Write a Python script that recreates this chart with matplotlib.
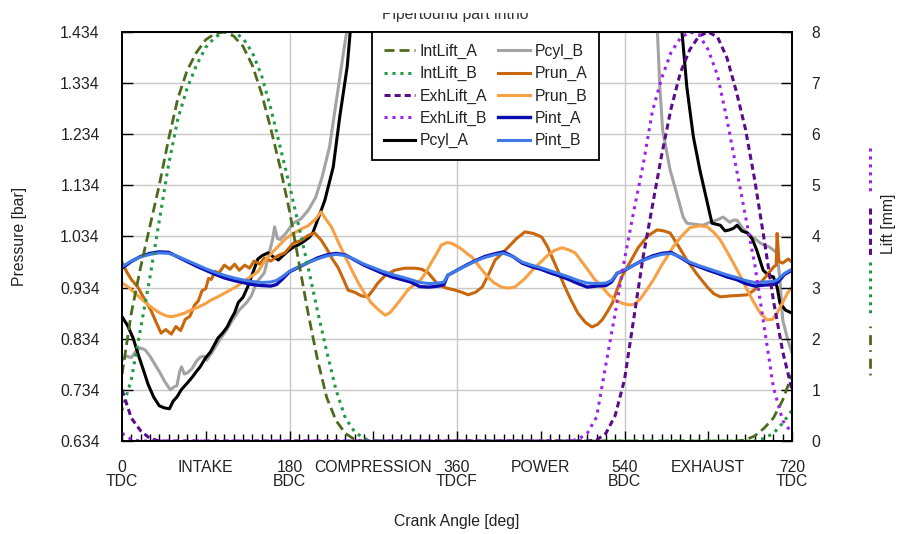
import numpy as np
import matplotlib
matplotlib.use('Agg')
import matplotlib.pyplot as plt
from matplotlib.lines import Line2D
from matplotlib.patches import Rectangle
from matplotlib.ticker import FixedLocator, MultipleLocator

plt.rcParams['font.family'] = ['Liberation Sans', 'DejaVu Sans']
plt.rcParams['font.size'] = 11.3
TXT = '#222222'

# ---- data (crank angle in deg) ----
x_ticks = [0, 90, 180, 270, 360, 450, 540, 630, 720]
x_labels = ['0\nTDC', 'INTAKE', '180\nBDC', 'COMPRESSION', '360\nTDCF',
            'POWER', '540\nBDC', 'EXHAUST', '720\nTDC']
p_ticks = [0.634, 0.734, 0.834, 0.934, 1.034, 1.134, 1.234, 1.334, 1.434]
lift_ticks = [0, 1, 2, 3, 4, 5, 6, 7, 8]

# valve lifts [mm]
int_a_deg = [0, 10, 20, 30, 40, 50, 60, 70, 80, 90, 100, 110, 120, 130, 140, 150, 160,
             170, 180, 190, 200, 210, 220, 230, 240, 250, 260, 660, 670, 680, 690, 700, 710, 720]
int_a = [1.3, 2.5, 3.4, 4.2, 5.0, 5.9, 6.7, 7.25, 7.6, 7.85, 7.97, 8.0, 7.92, 7.72, 7.35, 6.8, 6.1,
         5.35, 4.5, 3.5, 2.5, 1.6, 0.85, 0.4, 0.15, 0.03, 0.0, 0.0, 0.02, 0.1, 0.25, 0.45, 0.8, 1.3]

int_b_deg = [0, 10, 20, 30, 40, 50, 60, 70, 80, 90, 100, 110, 120, 130, 140, 150, 160, 170,
             180, 190, 200, 210, 220, 230, 240, 250, 260, 270, 680, 690, 700, 710, 720]
int_b = [0.6, 1.2, 2.2, 3.2, 4.3, 5.4, 6.3, 6.9, 7.35, 7.7, 7.9, 8.0, 8.0, 7.88, 7.6, 7.15, 6.5, 5.75,
         5.0, 4.2, 3.4, 2.55, 1.75, 1.0, 0.45, 0.18, 0.05, 0.0, 0.0, 0.05, 0.15, 0.35, 0.6]

exh_a_deg = [0, 10, 20, 30, 40, 500, 510, 520, 530, 540, 550, 560, 570, 580, 590, 600, 610,
             620, 630, 640, 650, 660, 670, 680, 690, 700, 710, 720]
exh_a = [1.0, 0.45, 0.2, 0.05, 0.0, 0.0, 0.02, 0.15, 0.5, 1.2, 2.4, 3.6, 4.6, 5.6, 6.5, 7.2, 7.65,
         7.92, 8.0, 7.9, 7.5, 6.85, 6.1, 5.1, 3.95, 2.75, 1.75, 1.0]

exh_b_deg = [0, 10, 20, 480, 490, 500, 510, 520, 530, 540, 550, 560, 570, 580, 590, 600, 610,
             620, 630, 640, 650, 660, 670, 680, 690, 700, 710, 720]
exh_b = [0.15, 0.03, 0.0, 0.0, 0.03, 0.15, 0.47, 1.5, 2.5, 3.55, 4.5, 5.4, 6.45, 7.1, 7.6, 7.88, 8.0,
         7.95, 7.65, 7.15, 6.3, 5.35, 4.4, 3.45, 2.25, 1.05, 0.4, 0.15]

# cylinder pressure [bar]
pcyl_a_deg = [0, 6, 12, 18, 23, 28, 34, 40, 45, 51, 55, 59, 64, 70, 76, 80, 84, 90, 95, 98, 103,
              108, 113, 117, 121, 125, 130, 135, 139, 143, 146, 151, 157, 162, 168, 172, 178, 184,
              190, 196, 201, 205, 212, 218, 227, 234, 242, 246, 252, 265, 290, 330, 370, 420, 480,
              540, 580, 601, 607, 614, 621, 629, 634, 643, 648, 653, 657, 661, 666, 672, 677, 682,
              689, 695, 700, 704, 707, 713, 720]
pcyl_a = [0.877, 0.860, 0.835, 0.800, 0.773, 0.745, 0.720, 0.703, 0.699, 0.697, 0.712, 0.720, 0.735,
          0.747, 0.760, 0.770, 0.779, 0.797, 0.808, 0.818, 0.835, 0.845, 0.857, 0.872, 0.885, 0.905,
          0.915, 0.935, 0.955, 0.975, 0.990, 0.997, 1.002, 0.995, 0.988, 0.995, 1.005, 1.013, 1.018,
          1.025, 1.032, 1.041, 1.075, 1.105, 1.170, 1.268, 1.366, 1.45, 1.6, 2.2, 4.0, 12.0, 28.0,
          12.0, 4.0, 2.2, 1.7, 1.45, 1.326, 1.229, 1.164, 1.100, 1.060, 1.056, 1.045, 1.047, 1.050,
          1.056, 1.045, 1.041, 1.030, 1.008, 0.968, 0.958, 0.955, 0.935, 0.904, 0.890, 0.884]

pcyl_b_deg = [0, 5, 10, 15, 20, 25, 30, 35, 41, 46, 52, 56, 59, 62, 64, 67, 70, 75, 80, 84, 88, 91,
              97, 105, 112, 119, 126, 134, 139, 145, 153, 158, 162, 164, 167, 170, 176, 184, 192, 200,
              208, 215, 223, 232, 240, 244, 252, 265, 290, 330, 370, 420, 480, 530, 560, 575, 578, 581,
              589, 596, 603, 607, 615, 624, 632, 639, 646, 653, 657, 661, 667, 672, 680, 686, 696, 704,
              707, 710, 715, 720]
pcyl_b = [0.792, 0.800, 0.797, 0.810, 0.816, 0.812, 0.800, 0.785, 0.767, 0.750, 0.734, 0.740, 0.742,
          0.770, 0.779, 0.765, 0.767, 0.775, 0.790, 0.798, 0.800, 0.792, 0.808, 0.832, 0.850, 0.871,
          0.890, 0.905, 0.918, 0.945, 0.963, 1.000, 1.030, 1.053, 1.030, 1.028, 1.040, 1.060, 1.068,
          1.085, 1.110, 1.150, 1.209, 1.320, 1.418, 1.46, 1.65, 2.3, 4.2, 12.5, 29.0, 13.0, 4.5, 2.6,
          1.8, 1.45, 1.326, 1.242, 1.164, 1.119, 1.072, 1.060, 1.058, 1.056, 1.062, 1.066, 1.072,
          1.062, 1.066, 1.066, 1.050, 1.041, 1.030, 1.021, 1.013, 1.002, 0.950, 0.871, 0.835, 0.806]

# runner pressure [bar]
prun_a_deg = [0, 5, 10, 17, 24, 31, 37, 42, 47, 53, 58, 63, 68, 73, 78, 82, 86, 90, 93, 96, 100,
              104, 110, 116, 121, 126, 132, 137, 142, 148, 153, 160, 167, 175, 184, 192, 200, 207,
              214, 220, 226, 232, 238, 243, 250, 257, 264, 270, 275, 283, 293, 304, 315, 322, 329,
              335, 340, 349, 358, 365, 372, 380, 387, 394, 401, 408, 415, 424, 433, 442, 451, 457,
              462, 469, 476, 483, 490, 498, 505, 511, 516, 522, 527, 532, 537, 546, 555, 565, 575,
              582, 589, 598, 607, 618, 629, 636, 643, 655, 665, 672, 680, 686, 693, 700, 703, 704,
              706, 710, 716, 720]
prun_a = [0.984, 0.965, 0.950, 0.935, 0.912, 0.890, 0.865, 0.845, 0.852, 0.843, 0.858, 0.850, 0.872,
          0.878, 0.900, 0.908, 0.928, 0.932, 0.952, 0.950, 0.966, 0.962, 0.978, 0.970, 0.980, 0.968,
          0.978, 0.972, 0.986, 0.980, 0.992, 0.986, 0.996, 1.002, 1.021, 1.026, 1.036, 1.041, 1.027,
          1.010, 0.990, 0.974, 0.950, 0.929, 0.925, 0.918, 0.916, 0.930, 0.943, 0.958, 0.968, 0.972,
          0.972, 0.970, 0.963, 0.950, 0.939, 0.933, 0.929, 0.925, 0.920, 0.925, 0.935, 0.960, 0.988,
          1.000, 1.013, 1.030, 1.043, 1.040, 1.033, 1.015, 0.994, 0.965, 0.935, 0.908, 0.884, 0.866,
          0.857, 0.862, 0.871, 0.888, 0.904, 0.930, 0.955, 0.984, 1.013, 1.035, 1.047, 1.045, 1.041,
          1.015, 0.988, 0.960, 0.935, 0.922, 0.916, 0.918, 0.919, 0.920, 0.930, 0.943, 0.958, 0.974,
          0.978, 1.040, 0.985, 0.982, 0.990, 0.984]

prun_b_deg = [0, 7, 14, 22, 31, 40, 47, 53, 60, 67, 74, 82, 90, 96, 103, 112, 122, 130, 138, 146,
              153, 160, 168, 176, 184, 192, 200, 208, 214, 219, 225, 232, 240, 247, 254, 261, 268,
              276, 283, 288, 293, 300, 307, 314, 321, 327, 332, 338, 343, 349, 354, 360, 366, 371,
              376, 384, 393, 400, 408, 415, 422, 432, 441, 450, 458, 465, 473, 480, 487, 494, 501,
              508, 516, 523, 530, 538, 546, 551, 557, 564, 571, 580, 586, 592, 600, 610, 620, 629,
              636, 643, 650, 657, 665, 672, 679, 686, 693, 699, 704, 710, 715, 720]
prun_b = [0.943, 0.935, 0.923, 0.910, 0.896, 0.885, 0.879, 0.877, 0.880, 0.884, 0.890, 0.896, 0.903,
          0.910, 0.916, 0.925, 0.935, 0.945, 0.955, 0.965, 0.985, 1.000, 1.015, 1.030, 1.040, 1.048,
          1.055, 1.068, 1.082, 1.068, 1.053, 1.025, 0.994, 0.968, 0.943, 0.922, 0.904, 0.890, 0.880,
          0.885, 0.896, 0.912, 0.929, 0.940, 0.949, 0.965, 0.982, 1.000, 1.017, 1.022, 1.021, 1.015,
          1.008, 1.000, 0.994, 0.975, 0.955, 0.943, 0.935, 0.933, 0.935, 0.950, 0.968, 0.984, 0.998,
          1.007, 1.012, 1.008, 1.002, 0.985, 0.968, 0.950, 0.935, 0.920, 0.910, 0.903, 0.900, 0.902,
          0.912, 0.930, 0.949, 0.978, 0.995, 1.013, 1.032, 1.051, 1.055, 1.053, 1.042, 1.027, 1.005,
          0.982, 0.955, 0.929, 0.905, 0.884, 0.871, 0.872, 0.884, 0.905, 0.923, 0.935]

# intake plenum pressure [bar]
pint_deg = [0, 10, 20, 30, 40, 50, 60, 70, 80, 90, 100, 110, 120, 130, 140, 150, 160, 166, 172,
            180, 190, 200, 210, 220, 230, 240, 250, 260, 270, 280, 290, 300, 310, 320, 330, 340,
            346, 350, 360, 370, 380, 390, 400, 410, 420, 430, 440, 450, 460, 470, 480, 490, 500,
            510, 520, 526, 532, 540, 550, 560, 570, 580, 590, 600, 610, 620, 630, 640, 650, 660,
            670, 680, 690, 700, 705, 712, 720]
pint_a = [0.972, 0.985, 0.995, 1.001, 1.004, 1.003, 0.994, 0.985, 0.976, 0.968, 0.960, 0.953, 0.948,
          0.944, 0.940, 0.938, 0.937, 0.940, 0.950, 0.965, 0.974, 0.983, 0.992, 0.998, 1.001, 0.998,
          0.988, 0.978, 0.970, 0.962, 0.955, 0.950, 0.945, 0.936, 0.935, 0.937, 0.940, 0.958, 0.968,
          0.978, 0.987, 0.995, 1.000, 1.004, 0.995, 0.982, 0.975, 0.970, 0.963, 0.957, 0.950, 0.942,
          0.935, 0.937, 0.938, 0.945, 0.962, 0.968, 0.978, 0.988, 0.996, 1.001, 1.003, 0.993, 0.982,
          0.975, 0.968, 0.962, 0.955, 0.950, 0.942, 0.937, 0.939, 0.940, 0.945, 0.960, 0.968]
pint_b = [0.975, 0.986, 0.994, 0.999, 1.002, 1.001, 0.995, 0.987, 0.979, 0.971, 0.964, 0.958, 0.953,
          0.949, 0.946, 0.944, 0.945, 0.948, 0.955, 0.966, 0.975, 0.983, 0.990, 0.996, 0.999, 0.997,
          0.989, 0.980, 0.973, 0.966, 0.960, 0.955, 0.950, 0.944, 0.942, 0.943, 0.945, 0.958, 0.968,
          0.977, 0.986, 0.993, 0.998, 1.001, 0.995, 0.984, 0.978, 0.973, 0.967, 0.961, 0.955, 0.948,
          0.943, 0.942, 0.943, 0.948, 0.962, 0.969, 0.978, 0.987, 0.994, 0.999, 1.001, 0.994, 0.984,
          0.977, 0.971, 0.965, 0.959, 0.954, 0.948, 0.944, 0.945, 0.946, 0.950, 0.962, 0.970]

C_INT_A = '#4d6b1c'
C_INT_B = '#1f9a45'
C_EXH_A = '#5a0c8c'
C_EXH_B = '#9d22ee'

fig = plt.figure(figsize=(9.06, 5.34), dpi=100)
ax = fig.add_axes([122 / 906, 93 / 534, 670 / 906, 409 / 534])
ax2 = ax.twinx()

# pressures on the left axis
ax.plot(pcyl_b_deg, pcyl_b, color='#a3a3a3', lw=2.2, label='Pcyl_B')
ax.plot(pcyl_a_deg, pcyl_a, color='black', lw=2.2, label='Pcyl_A')
ax.plot(prun_a_deg, prun_a, color='#c9670c', lw=2.2, label='Prun_A')
ax.plot(prun_b_deg, prun_b, color='#f7a044', lw=2.2, label='Prun_B')
ax.plot(pint_deg, pint_a, color='#0b0bb0', lw=2.4, label='Pint_A')
ax.plot(pint_deg, pint_b, color='#3f7ae8', lw=2.2, label='Pint_B')

# lifts on the right axis
ax2.plot(int_a_deg, int_a, color=C_INT_A, lw=2.0, dashes=(3.6, 1.8), label='IntLift_A')
ax2.plot(int_b_deg, int_b, color=C_INT_B, lw=2.2, dashes=(1.0, 1.6), label='IntLift_B')
ax2.plot(exh_a_deg, exh_a, color=C_EXH_A, lw=2.2, dashes=(2.0, 1.3), label='ExhLift_A')
ax2.plot(exh_b_deg, exh_b, color=C_EXH_B, lw=2.2, dashes=(1.0, 1.6), label='ExhLift_B')

ax.set_xlim(0, 720)
ax.set_ylim(0.634, 1.434)
ax2.set_ylim(0, 8)

ax.yaxis.set_major_locator(FixedLocator(p_ticks))
ax.set_yticklabels([f'{v:.3f}' for v in p_ticks])
ax2.yaxis.set_major_locator(FixedLocator(lift_ticks))
ax2.set_yticklabels([str(v) for v in lift_ticks])
ax.set_xticks(x_ticks)
ax.set_xticklabels(x_labels, linespacing=0.9)
ax.xaxis.set_minor_locator(MultipleLocator(10))

ax.tick_params(axis='y', direction='in', length=8, width=1, pad=16, labelcolor=TXT)
ax2.tick_params(axis='y', direction='in', length=8, width=1, pad=14, labelcolor=TXT)
ax.tick_params(axis='x', which='major', direction='in', length=7, width=1, pad=14, labelcolor=TXT)
ax.tick_params(axis='x', which='minor', direction='in', length=5, width=1)

ax.grid(axis='y', color='#c8c8c8', lw=1.0)
for v in [180, 360, 540]:
    ax.axvline(v, color='#c8c8c8', lw=1.0, zorder=0.5)
ax.set_axisbelow(True)

for a in (ax, ax2):
    for s in a.spines.values():
        s.set_color('black')
        s.set_linewidth(1.3)

ax.set_ylabel('Pressure [bar]', color=TXT)
ax.yaxis.set_label_coords(-0.142, 0.5)
ax.set_xlabel('Crank Angle [deg]', color=TXT)
ax.xaxis.set_label_coords(0.5, -0.178)

# legend combining both axes
h1, l1 = ax2.get_legend_handles_labels()
h2, l2 = ax.get_legend_handles_labels()
order = ['Pcyl_A', 'Pcyl_B', 'Prun_A', 'Prun_B', 'Pint_A', 'Pint_B']
hmap = dict(zip(l2, h2))
handles = h1 + [hmap[k] for k in order]
labels = l1 + order
leg = ax2.legend(handles, labels, ncol=2, loc='upper left', bbox_to_anchor=(0.373, 1.0),
                 borderaxespad=0, fancybox=False, framealpha=1, edgecolor='black',
                 handlelength=2.0, handletextpad=0.3, columnspacing=0.7, labelspacing=0.46,
                 borderpad=0.75, fontsize=11.3)
leg.get_frame().set_linewidth(1.3)
for t in leg.get_texts():
    t.set_color(TXT)

# right-hand lift label with its line samples
fig.text(888 / 906, 1 - 224 / 534, 'Lift [mm]', rotation=90, ha='center', va='center', color=TXT)
xs = 870 / 906
fig.add_artist(Line2D([xs, xs], [1 - 148 / 534, 1 - 195 / 534], color=C_EXH_B, lw=2.2, dashes=(1.0, 1.6)))
fig.add_artist(Line2D([xs, xs], [1 - 208 / 534, 1 - 255 / 534], color=C_EXH_A, lw=2.2, dashes=(2.0, 1.3)))
fig.add_artist(Line2D([xs, xs], [1 - 262 / 534, 1 - 315 / 534], color=C_INT_B, lw=2.2, dashes=(1.0, 1.6)))
fig.add_artist(Line2D([xs, xs], [1 - 326 / 534, 1 - 376 / 534], color=C_INT_A, lw=2.0, dashes=(0.6, 2.5, 3.6, 1.8)))

# title, clipped at the top edge as in the source
fig.text(455 / 906, 1 - 19 / 534, 'Pipertound part intho', ha='center', va='baseline',
         color='#333333', zorder=1)
fig.add_artist(Rectangle((0, 1 - 13 / 534), 1, 13 / 534, transform=fig.transFigure,
                         facecolor='white', edgecolor='none', zorder=10))

fig.savefig('out.png', dpi=100)
